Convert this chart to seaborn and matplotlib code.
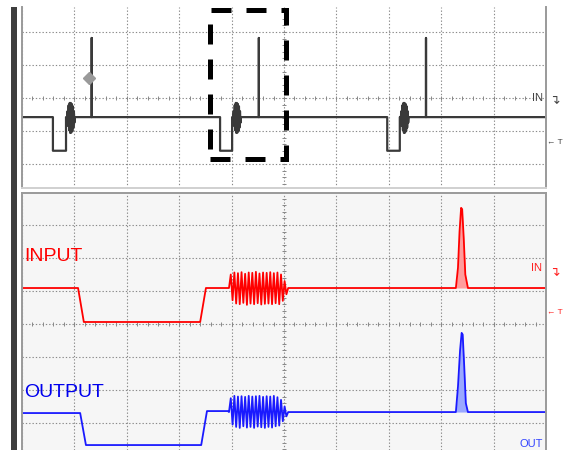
import numpy as np
import pandas as pd
import matplotlib
matplotlib.use("Agg")
import matplotlib.pyplot as plt
from matplotlib.patches import Rectangle
import seaborn as sns

# everything in screen divisions: 10 across, 33 px per vertical division
# ---- overview window (top), three repeats of the packet
drops = [0.59, 3.78, 6.97]
rises = [0.84, 4.01, 7.21]
spikes = [1.33, 4.52, 7.71]
base_top = -0.58
low_top = -1.60
spike_top = 1.82
blob_dx = [0.00, 0.01, 0.02, 0.03, 0.04, 0.05, 0.06, 0.07, 0.08, 0.09, 0.10, 0.11, 0.12, 0.13, 0.14, 0.15]
blob_y = [-0.58, -0.40, -0.85, -0.22, -0.98, -0.15, -1.06, -0.15, -1.05, -0.18, -1.00, -0.25, -0.90, -0.40, -0.75, -0.58]
marker_pt = (1.28, 0.60)
zoom_box = (3.58, 5.03, -1.85, 2.68)

# ---- zoomed window (bottom)
in_x = [0.00, 1.07, 1.18, 3.40, 3.51, 3.93]
in_y = [1.09, 1.09, 0.06, 0.06, 1.09, 1.09]
in_burst = [1.09, 1.50, 0.72, 1.56, 0.62, 1.54, 0.60, 1.57, 0.64, 1.52, 0.58, 1.56,
            0.62, 1.55, 0.60, 1.58, 0.63, 1.53, 0.59, 1.56, 0.61, 1.55, 0.62, 1.57,
            0.60, 1.54, 0.63, 1.56, 0.60, 1.50, 0.70, 1.30, 0.90, 1.09]
in_tail_x = [5.10, 8.28, 8.32, 8.35, 8.38, 8.40, 8.43, 8.46, 8.51, 10.0]
in_tail_y = [1.09, 1.09, 1.70, 2.80, 3.52, 3.48, 2.60, 1.50, 1.09, 1.09]

out_x = [0.00, 1.11, 1.22, 3.42, 3.53, 3.93]
out_y = [-2.70, -2.70, -3.67, -3.67, -2.64, -2.64]
out_burst = [-2.67, -2.25, -3.05, -2.18, -3.12, -2.20, -3.15, -2.19, -3.10, -2.21, -3.14, -2.18,
             -3.12, -2.20, -3.15, -2.19, -3.11, -2.18, -3.13, -2.21, -3.15, -2.19, -3.12, -2.20,
             -3.14, -2.18, -3.10, -2.22, -3.08, -2.30, -2.95, -2.50, -2.80, -2.67]
out_tail_x = [5.10, 8.28, 8.32, 8.36, 8.39, 8.41, 8.44, 8.47, 8.51, 10.0]
out_tail_y = [-2.67, -2.67, -1.90, -0.80, -0.27, -0.32, -1.30, -2.40, -2.67, -2.67]
burst_span = (3.95, 5.08)

sns.set_style("white")
plt.rcParams['font.family'] = ['Liberation Sans', 'DejaVu Sans']

W, H = 563, 450
fig = plt.figure(figsize=(W / 100, H / 100), dpi=100)

def px_box(x0, y0, x1, y1):
    return [x0 / W, 1 - y1 / H, (x1 - x0) / W, (y1 - y0) / H]

ax1 = fig.add_axes(px_box(22, 7, 546, 188))
ax2 = fig.add_axes(px_box(22, 193, 546, 450))
ax1.set_facecolor('white')
ax2.set_facecolor('#f6f6f6')

def scope_grid(ax, ylo, yhi):
    ax.set_xlim(0, 10)
    ax.set_ylim(ylo, yhi)
    ax.set_xticks(range(0, 11))
    ax.set_yticks([v for v in range(-4, 5) if ylo < v < yhi])
    ax.tick_params(length=0, labelbottom=False, labelleft=False)
    ax.grid(True, linestyle=(0, (1.2, 1.8)), color='#8a8a8a', lw=0.8)
    tx = np.arange(0, 10.01, 0.2)
    ax.plot(tx, np.zeros_like(tx), ls='none', marker='|', ms=3.5, mew=0.7, color='#888')
    ty = np.arange(np.ceil(ylo * 5) / 5, yhi, 0.2)
    ax.plot(np.full_like(ty, 5.0), ty, ls='none', marker='_', ms=3.5, mew=0.7, color='#888')

scope_grid(ax1, -2.73, 2.76)
scope_grid(ax2, -3.82, 3.97)

for ax in (ax1, ax2):
    for s in ax.spines.values():
        s.set_color('#9a9a9a')
        s.set_linewidth(1.4)
ax1.spines['top'].set_visible(False)
ax1.spines['bottom'].set_color('#d0d0d0')
ax2.spines['bottom'].set_visible(False)

# overview trace
tx, ty = [0.0], [base_top]
for d, r, s in zip(drops, rises, spikes):
    tx += [d, d, r, r]
    ty += [base_top, low_top, low_top, base_top]
    tx += [r + 0.02 + dx for dx in blob_dx]
    ty += blob_y
    tx += [s, s, s]
    ty += [base_top, spike_top, base_top]
tx.append(10.0)
ty.append(base_top)
top_df = pd.DataFrame({'t': tx, 'v': ty})
sns.lineplot(data=top_df, x='t', y='v', ax=ax1, estimator=None, sort=False,
             color='#3a3a3a', lw=1.6)
ax1.plot(*marker_pt, marker='D', ms=6, color='#9a9a9a', mec='#9a9a9a')
bx0, bx1, by0, by1 = zoom_box
ax1.add_patch(Rectangle((bx0, by0), bx1 - bx0, by1 - by0, fill=False, ec='black',
                        lw=3.6, ls=(0, (4, 3)), clip_on=False, zorder=5))

# zoomed traces
bt = np.linspace(burst_span[0], burst_span[1], len(in_burst))
for xs, ys, burst, tail_x, tail_y, col, light in [
        (in_x, in_y, in_burst, in_tail_x, in_tail_y, '#ff0000', '#ff9c9c'),
        (out_x, out_y, out_burst, out_tail_x, out_tail_y, '#1a1aff', '#9aa8ff')]:
    df = pd.DataFrame({'t': xs + list(bt) + tail_x, 'v': ys + burst + tail_y})
    ax2.fill_between(tail_x, tail_y, tail_y[0], color=light, lw=0)
    sns.lineplot(data=df, x='t', y='v', ax=ax2, estimator=None, sort=False,
                 color=col, lw=1.3)

ax2.text(0.04, 1.91, 'INPUT', color='#ff0000', fontsize=14, va='baseline')
ax2.text(0.04, -2.21, 'OUTPUT', color='#0000ee', fontsize=14, va='baseline')
for ax in (ax1, ax2):
    ax.set_xlabel('')
    ax.set_ylabel('')

# channel markers at the right edge
def ftext(x, y, s, **kw):
    fig.text(x / W, 1 - y / H, s, va='center', **kw)

ftext(532, 98, 'IN', color='#444444', fontsize=8)
ftext(549, 100, '↴', color='#444444', fontsize=9)
ftext(547, 143, '← T', color='#444444', fontsize=6)
ftext(531, 268, 'IN', color='#ff2020', fontsize=8)
ftext(549, 272, '↴', color='#ff2020', fontsize=9)
ftext(547, 313, '← T', color='#ff2020', fontsize=6)
fig.text(519 / W, 1 - 449 / H, 'OUT', color='#3344ff', fontsize=8, va='bottom')

# bezel on the left
fig.add_artist(Rectangle((11 / W, 0), 6 / W, 443 / H, transform=fig.transFigure,
                         color='#3e3e3e', lw=0))

fig.savefig('out.png', dpi=100)
